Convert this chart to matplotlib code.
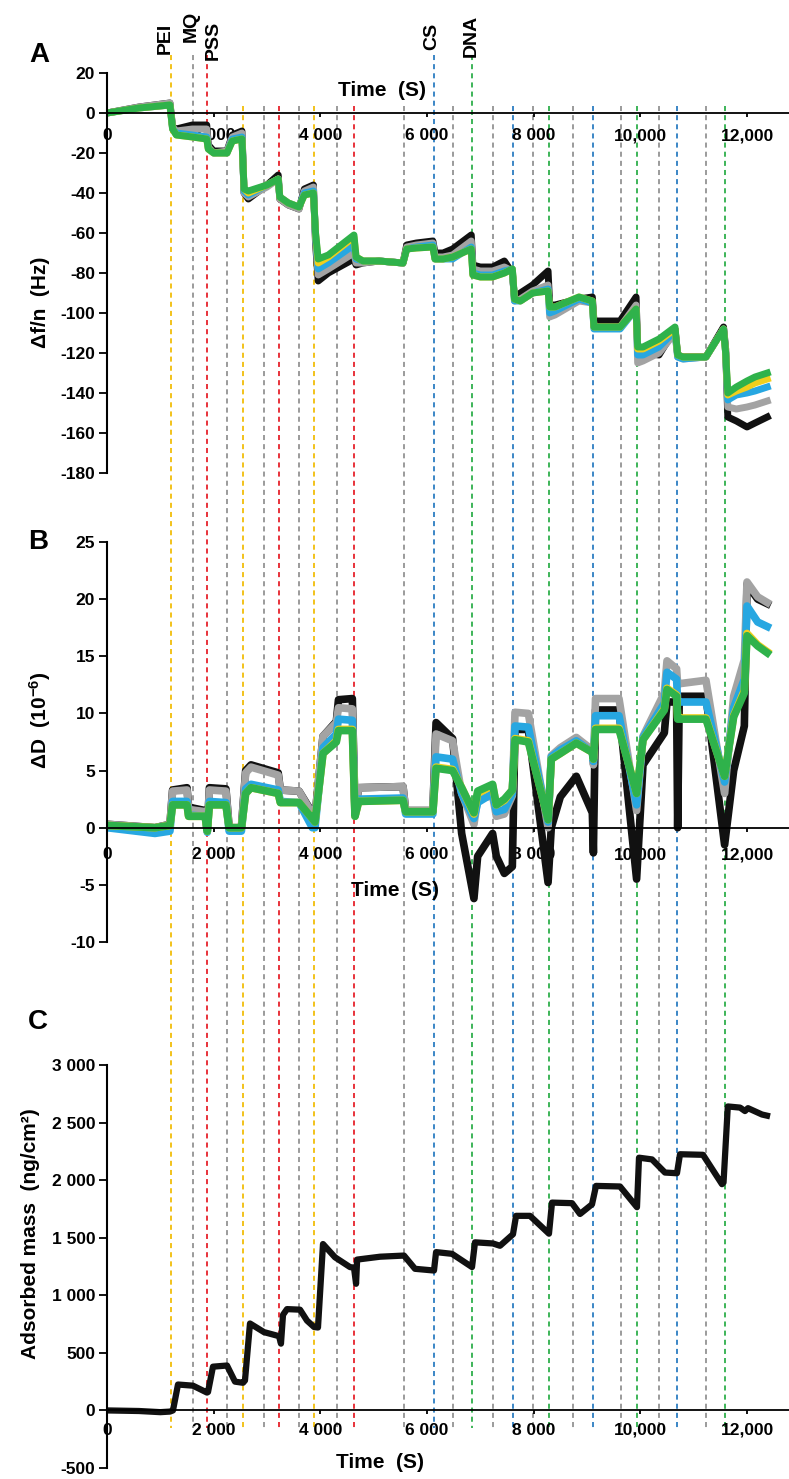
import matplotlib
matplotlib.use("Agg")
import matplotlib.pyplot as plt

plt.rcParams['font.family'] = ['Liberation Sans', 'DejaVu Sans']
plt.rcParams['font.weight'] = 'bold'
plt.rcParams['axes.unicode_minus'] = False
plt.rcParams['mathtext.fontset'] = 'custom'
plt.rcParams['mathtext.rm'] = 'Liberation Sans:bold'
plt.rcParams['mathtext.bf'] = 'Liberation Sans:bold'
plt.rcParams['mathtext.default'] = 'bf'

# ---- injection steps (vertical dashed lines) ----
step_t = [1200, 1612, 1875, 2250, 2550, 2944, 3225, 3600, 3881, 4312, 4631,
          5569, 6131, 6487, 6844, 7237, 7612, 7987, 8287, 8737, 9112, 9637,
          9937, 10350, 10687, 11231, 11587]
step_kind = ['PEI', 'MQ', 'PSS', 'MQ', 'PEI', 'MQ', 'PSS', 'MQ', 'PEI', 'MQ', 'PSS',
             'MQ', 'CS', 'MQ', 'DNA', 'MQ', 'CS', 'MQ', 'DNA', 'MQ', 'CS', 'MQ',
             'DNA', 'MQ', 'CS', 'MQ', 'DNA']
kind_color = {'PEI': '#f2c21b', 'MQ': '#9b9b9b', 'PSS': '#e8323a',
              'CS': '#3b86c6', 'DNA': '#3db458'}

# ---- panel A: frequency shift ----
tA = [0, 600, 1180, 1230, 1300, 1600, 1870, 1900, 2000, 2250, 2350, 2530, 2570, 2650,
      3000, 3210, 3240, 3400, 3600, 3700, 3870, 3910, 3960, 4150, 4630, 4670, 4800,
      5100, 5550, 5620, 5800, 6110, 6150, 6300, 6480, 6830, 6860, 7000, 7230, 7450,
      7600, 7640, 7750, 7980, 8270, 8300, 8400, 8850, 9100, 9130, 9300, 9620, 9920,
      9950, 10050, 10350, 10650, 10700, 10800, 11230, 11560, 11600, 11640, 11800,
      12000, 12150, 12380]
dfA_green = [0, 2.5, 4, -8, -11, -12, -13, -18, -20, -20, -14, -13, -38, -39, -36, -33,
             -42, -45, -47, -41, -40, -60, -73, -71, -61, -72, -74, -74, -75, -68, -67.5,
             -67, -73, -73, -72, -68, -81, -82, -82, -80, -78, -93, -94, -90, -89, -97,
             -97, -92, -94, -107, -107, -107, -98, -117, -117, -113, -107, -121, -122,
             -122, -108, -120, -140, -137, -134, -132, -130]
dfA_black = [0, 3, 5, -7, -8, -6, -6, -16, -19, -19, -11, -9, -40, -43, -36, -31, -43,
             -46, -48, -38, -36, -65, -84, -80, -73, -76, -75, -74, -75, -66, -65, -64,
             -70, -70, -68, -61, -76, -77, -77, -74, -80, -92, -90, -86, -79, -96, -96,
             -93, -92, -104, -104, -104, -92, -117, -120, -121, -108, -121, -122, -122,
             -107, -118, -152, -154, -157, -155, -152]
dfA_grey = [0, 3, 5, -7, -9, -8, -8, -17, -20, -19, -12, -10, -40, -42, -37, -33, -43,
            -46, -48, -39, -37, -63, -81, -78, -70, -75, -75, -74, -75, -67, -66, -65,
            -72, -72, -71, -64, -78, -79, -79, -77, -79, -94, -93, -89, -86, -102, -101,
            -94, -95, -107, -107, -107, -96, -125, -124, -120, -110, -122, -123, -122,
            -108, -120, -147, -148, -147, -146, -144]
dfA_blue = [0, 2.5, 4, -8, -10, -11, -12, -18, -20, -20, -13, -12, -39, -41, -36, -33,
            -42, -45, -47, -40, -39, -61, -78, -75, -66, -73, -74, -74, -75, -68, -67,
            -66, -73, -73, -73, -67, -80, -81, -81, -79, -78, -94, -94, -90, -88, -100,
            -99, -93, -95, -108, -108, -108, -98, -121, -121, -117, -109, -122, -123,
            -122, -108, -120, -143.5, -141, -140, -139, -137]
dfA_yellow = [0, 2.5, 4, -8, -11, -12, -13, -18, -20, -20, -14, -13, -38, -40, -36, -33,
              -42, -45, -47, -41, -40, -60, -75, -72, -62, -72, -74, -74, -75, -68, -67.5,
              -67, -73, -73, -72, -68, -81, -82, -82, -80, -78, -93, -94, -90, -89, -97,
              -97, -92, -94, -107, -107, -107, -98, -118, -118, -114, -108, -121, -122,
              -122, -108, -120, -141, -139, -137, -135, -133]

# ---- panel B: dissipation ----
tB = [0, 900, 1180, 1230, 1500, 1530, 1840, 1880, 1920, 2230, 2290, 2520, 2600, 2700,
      3210, 3250, 3600, 3850, 3900, 4050, 4300, 4340, 4600, 4650, 4720, 5550, 5600,
      6110, 6170, 6480, 6650, 6880, 6950, 7230, 7300, 7450, 7600, 7650, 7900, 8270,
      8330, 8500, 8800, 9100, 9120, 9160, 9600, 9930, 10050, 10450, 10500, 10680,
      10700, 10730, 11230, 11580, 11750, 11950, 12000, 12200, 12380]
dB_green = [0.2, 0, 0.2, 2.0, 2.0, 1.0, 1.0, -0.3, 2.0, 2.0, 0, 0, 3.0, 3.5, 3.0, 2.2,
            2.2, 0.8, 0.5, 6.5, 7.5, 8.5, 8.5, 1.0, 2.3, 2.4, 1.4, 1.4, 5.2, 5.0, 3.5,
            1.3, 3.2, 3.8, 2.0, 2.5, 3.3, 7.7, 7.5, 0.7, 6.0, 6.5, 7.4, 6.6, 6.0, 8.6,
            8.6, 3.0, 7.7, 10.3, 12.1, 11.5, 9.5, 9.5, 9.5, 4.5, 9.7, 11.8, 16.8, 15.9,
            15.3]
dB_black = [0.3, 0, 0.3, 3.3, 3.5, 1.8, 1.5, -0.3, 3.5, 3.4, 0, 0, 5.0, 5.5, 4.8, 3.3,
            3.2, 1.3, 1.0, 8.0, 9.3, 11.2, 11.3, 1.5, 3.5, 3.6, 1.5, 1.5, 9.2, 7.8, -0.5,
            -6.2, -2.5, -0.5, -2.5, -4.0, -3.4, 8.6, 8.6, -4.8, 0.0, 2.7, 4.5, 1.3, -2.2,
            10.3, 10.3, -4.5, 5.5, 8.3, 11.0, 11.0, 0.0, 11.5, 11.5, -1.5, 5.0, 8.9,
            21.3, 20.0, 19.6]
dB_grey = [0.3, 0, 0.3, 3.2, 3.3, 1.6, 1.4, -0.3, 3.3, 3.2, 0, 0, 4.8, 5.3, 4.6, 3.3,
           3.2, 1.2, 1.0, 8.0, 9.2, 10.5, 10.4, 1.5, 3.5, 3.6, 1.5, 1.5, 8.2, 7.6, 3.0,
           0.3, 2.5, 2.8, 1.0, 1.2, 2.8, 10.1, 10.0, 0.0, 6.3, 7.0, 7.9, 6.8, 5.5, 11.3,
           11.3, 1.5, 8.0, 11.8, 14.6, 13.9, 12.5, 12.6, 12.9, 3.0, 11.5, 14.7, 21.5,
           20.2, 19.7]
dB_blue = [0, -0.5, -0.3, 2.3, 2.3, 1.1, 1.0, -0.4, 2.3, 2.2, -0.3, -0.3, 3.4, 3.8, 3.3,
           2.3, 2.2, 0, 0, 7.0, 8.2, 9.5, 9.4, 1.0, 2.5, 2.6, 1.2, 1.2, 6.2, 6.0, 3.0,
           0.8, 2.2, 3.0, 1.4, 1.6, 3.0, 8.9, 8.8, 0.5, 6.2, 6.8, 7.6, 6.6, 5.8, 9.8,
           9.8, 2.0, 7.9, 10.9, 13.6, 13.0, 11.0, 11.0, 11.0, 4.0, 10.5, 13.0, 19.4,
           18.0, 17.6]
dB_yellow = [0.2, 0, 0.2, 2.0, 2.0, 1.0, 1.0, -0.3, 2.0, 2.0, 0, 0, 3.0, 3.5, 3.0, 2.2,
             2.2, 0.8, 0.5, 6.5, 7.6, 8.6, 8.6, 1.0, 2.3, 2.4, 1.4, 1.4, 5.3, 5.1, 3.5,
             1.2, 3.0, 3.7, 2.0, 2.4, 3.3, 7.8, 7.6, 0.7, 6.0, 6.5, 7.4, 6.6, 6.0, 8.7,
             8.7, 3.0, 7.7, 10.4, 12.2, 11.6, 9.6, 9.6, 9.6, 4.5, 9.8, 12.0, 17.0, 16.0,
             15.4]

# ---- panel C: adsorbed mass ----
tC = [0, 600, 1000, 1180, 1237, 1331, 1612, 1875, 1894, 1987, 2250, 2400, 2550, 2587,
      2681, 2944, 3225, 3262, 3300, 3375, 3619, 3750, 3881, 3956, 4050, 4275, 4556,
      4631, 4670, 4690, 5119, 5569, 5775, 6131, 6170, 6469, 6844, 6900, 7237, 7369,
      7612, 7670, 7931, 8287, 8344, 8719, 8869, 9094, 9169, 9619, 9937, 9975, 10219,
      10462, 10687, 10744, 11175, 11531, 11560, 11640, 11870, 11962, 12019, 12281, 12375]
mass_C = [0, -5, -15, -10, 0, 225, 215, 155, 160, 380, 390, 250, 240, 260, 755, 680,
          645, 580, 830, 880, 875, 780, 725, 720, 1445, 1330, 1245, 1240, 1100, 1310,
          1335, 1345, 1230, 1215, 1375, 1360, 1245, 1460, 1450, 1430, 1530, 1690, 1690,
          1535, 1805, 1800, 1706, 1790, 1950, 1945, 1765, 2195, 2180, 2066, 2060, 2225,
          2220, 1965, 1980, 2640, 2630, 2600, 2625, 2570, 2560]

xticks = [0, 2000, 4000, 6000, 8000, 10000, 12000]
xtick_labels = ['0', '2 000', '4 000', '6 000', '8 000', '10,000', '12,000']
yticksA = list(range(-180, 21, 20))
yticksB = list(range(-10, 26, 5))
yticksC = list(range(-500, 3001, 500))
ytick_labelsC = ['-500', '0', '500', '1 000', '1 500', '2 000', '2 500', '3 000']

series_colors = {'black': '#111111', 'grey': '#a3a3a3', 'blue': '#27a7e1',
                 'yellow': '#f0cf1c', 'green': '#2fb24b'}

W, H = 789, 1479
X0 = 107            # pixel of t = 0
SEC_PER_PX = 18.75  # 2000 s per ~106.7 px
XMAX = (W - X0) * SEC_PER_PX

fig = plt.figure(figsize=(W / 100, H / 100), dpi=100)

# overlay for the dashed injection lines spanning all panels
ov = fig.add_axes([0, 0, 1, 1])
ov.set_xlim(-X0 * SEC_PER_PX, XMAX)
ov.set_ylim(H, 0)
ov.axis('off')
labelled = set()
for t, k in zip(step_t, step_kind):
    top = 55 if k not in labelled else 106
    labelled.add(k)
    ov.vlines(t, top, 1428, colors=kind_color[k], linewidth=1.4,
              linestyles=(0, (2.6, 2.1)))


def px(x, y):
    return x / W, 1 - y / H


def make_axes(top_px, bottom_px):
    l, b = px(X0, bottom_px)
    ax = fig.add_axes([l, b, 1 - l, (bottom_px - top_px) / H])
    ax.patch.set_alpha(0)
    ax.spines['top'].set_visible(False)
    ax.spines['right'].set_visible(False)
    ax.spines['bottom'].set_position(('data', 0))
    ax.spines['left'].set_linewidth(1.5)
    ax.spines['bottom'].set_linewidth(1.3)
    ax.set_xlim(0, XMAX)
    ax.set_xticks(xticks)
    ax.set_xticklabels(xtick_labels)
    ax.tick_params(axis='y', direction='out', length=5.5, width=1.3, pad=3,
                   labelsize=12.5)
    ax.tick_params(axis='x', direction='out', length=3, width=1.3, labelsize=12.5)
    return ax


# Panel A
axA = make_axes(73, 473)
axA.set_ylim(-180, 20)
axA.set_yticks(yticksA)
axA.tick_params(axis='x', pad=8)
for name, vals in [('black', dfA_black), ('grey', dfA_grey), ('blue', dfA_blue),
                   ('yellow', dfA_yellow), ('green', dfA_green)]:
    axA.plot(tA, vals, color=series_colors[name], lw=5, solid_joinstyle='round')

# Panel B
axB = make_axes(542, 942)
axB.set_ylim(-10, 25)
axB.set_yticks(yticksB)
axB.tick_params(axis='x', pad=11)
for name, vals in [('black', dB_black), ('grey', dB_grey), ('blue', dB_blue),
                   ('yellow', dB_yellow), ('green', dB_green)]:
    axB.plot(tB, vals, color=series_colors[name], lw=5.5, solid_joinstyle='round')

# Panel C
axC = make_axes(1065, 1468)
axC.set_ylim(-500, 3000)
axC.set_yticks(yticksC)
axC.set_yticklabels(ytick_labelsC)
axC.tick_params(axis='x', pad=6)
axC.plot(tC, mass_C, color='#111111', lw=4.5, solid_joinstyle='round')

# labels
fs_lab = 15
fig.text(*px(40, 302), 'Δf/n  (Hz)', rotation=90, ha='center', va='center',
         fontsize=fs_lab, fontweight='bold')
fig.text(*px(40, 720), 'ΔD  (10$^{-6}$)', rotation=90, ha='center', va='center',
         fontsize=fs_lab, fontweight='bold')
fig.text(*px(31, 1234), 'Adsorbed mass  (ng/cm²)', rotation=90, ha='center',
         va='center', fontsize=fs_lab, fontweight='bold')
for x, y in [(382, 91), (395, 890), (380, 1462)]:
    fig.text(*px(x, y), 'Time  (S)', ha='center', va='center', fontsize=fs_lab,
             fontweight='bold')
for letter, x, y in [('A', 39, 55), ('B', 38, 542), ('C', 38, 1022)]:
    fig.text(*px(x, y), letter, ha='center', va='center', fontsize=20,
             fontweight='bold')
for name, x, ybot in [('PEI', 165, 54), ('MQ', 191, 42), ('PSS', 213, 60),
                      ('CS', 432, 50), ('DNA', 471, 57)]:
    fig.text(*px(x, ybot), name, rotation=90, ha='center', va='bottom',
             fontsize=14, fontweight='bold')

fig.savefig('out.png', dpi=100)
